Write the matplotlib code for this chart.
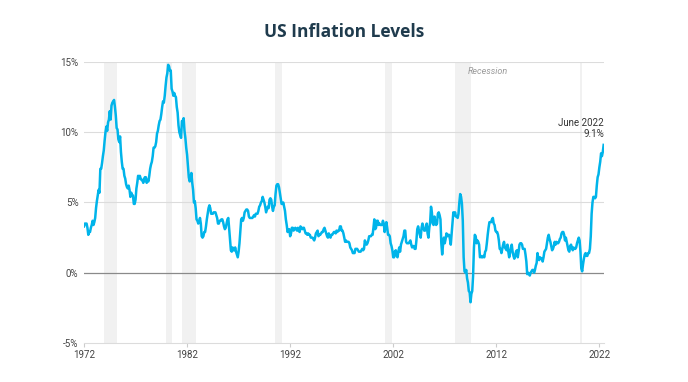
import matplotlib
matplotlib.use("Agg")
import matplotlib.pyplot as plt
import numpy as np

# US CPI year-over-year change, monthly, Jan 1972 - Jun 2022 (%)
cpi_by_year = {
    1972: [3.3, 3.5, 3.5, 3.5, 3.2, 2.7, 2.9, 2.9, 3.2, 3.4, 3.7, 3.4],
    1973: [3.6, 3.9, 4.6, 5.1, 5.5, 5.9, 5.7, 7.4, 7.4, 7.8, 8.3, 8.7],
    1974: [9.4, 10.0, 10.4, 10.1, 10.7, 10.9, 11.5, 10.9, 11.9, 12.1, 12.2, 12.3],
    1975: [11.8, 11.2, 10.3, 10.2, 9.5, 9.3, 9.7, 8.6, 7.9, 7.4, 7.4, 6.9],
    1976: [6.7, 6.3, 6.1, 6.0, 6.2, 5.9, 5.4, 5.7, 5.5, 5.5, 4.9, 4.9],
    1977: [5.2, 6.0, 6.4, 6.9, 6.7, 6.9, 6.7, 6.6, 6.6, 6.4, 6.7, 6.8],
    1978: [6.8, 6.4, 6.6, 6.5, 6.9, 7.4, 7.7, 7.9, 8.3, 8.9, 8.9, 9.0],
    1979: [9.3, 9.9, 10.1, 10.5, 10.8, 10.9, 11.3, 11.8, 12.2, 12.1, 12.6, 13.3],
    1980: [13.9, 14.2, 14.8, 14.7, 14.4, 14.4, 13.1, 12.9, 12.6, 12.8, 12.6, 12.5],
    1981: [11.8, 11.4, 10.5, 10.0, 9.8, 9.6, 10.8, 10.8, 11.0, 10.1, 9.6, 8.9],
    1982: [8.4, 7.6, 6.8, 6.5, 6.7, 7.1, 6.4, 5.9, 5.0, 5.1, 4.6, 3.8],
    1983: [3.7, 3.5, 3.6, 3.9, 3.5, 2.6, 2.5, 2.6, 2.9, 2.9, 3.3, 3.8],
    1984: [4.2, 4.6, 4.8, 4.6, 4.2, 4.2, 4.2, 4.3, 4.3, 4.3, 4.1, 3.9],
    1985: [3.5, 3.5, 3.7, 3.7, 3.8, 3.8, 3.6, 3.3, 3.1, 3.2, 3.5, 3.8],
    1986: [3.9, 3.1, 2.2, 1.6, 1.5, 1.8, 1.6, 1.6, 1.8, 1.5, 1.3, 1.1],
    1987: [1.5, 2.1, 3.0, 3.8, 3.9, 3.7, 3.9, 4.3, 4.4, 4.5, 4.5, 4.4],
    1988: [4.0, 3.9, 3.9, 3.9, 3.9, 4.0, 4.1, 4.0, 4.2, 4.2, 4.2, 4.4],
    1989: [4.7, 4.8, 5.0, 5.1, 5.4, 5.2, 5.0, 4.7, 4.3, 4.5, 4.7, 4.6],
    1990: [5.2, 5.3, 5.2, 4.7, 4.4, 4.7, 4.8, 5.6, 6.2, 6.3, 6.3, 6.1],
    1991: [5.7, 5.3, 4.9, 4.9, 5.0, 4.7, 4.4, 3.8, 3.4, 2.9, 3.0, 3.1],
    1992: [2.6, 2.8, 3.2, 3.2, 3.0, 3.1, 3.2, 3.1, 3.0, 3.2, 3.0, 2.9],
    1993: [3.3, 3.2, 3.1, 3.2, 3.2, 3.0, 2.8, 2.8, 2.7, 2.8, 2.7, 2.7],
    1994: [2.5, 2.5, 2.5, 2.4, 2.3, 2.5, 2.8, 2.9, 3.0, 2.6, 2.7, 2.7],
    1995: [2.8, 2.9, 2.9, 3.1, 3.2, 3.0, 2.8, 2.6, 2.5, 2.8, 2.6, 2.5],
    1996: [2.7, 2.7, 2.8, 2.9, 2.9, 2.8, 3.0, 2.9, 3.0, 3.0, 3.3, 3.3],
    1997: [3.0, 3.0, 2.8, 2.5, 2.2, 2.3, 2.2, 2.2, 2.2, 2.1, 1.8, 1.7],
    1998: [1.6, 1.4, 1.4, 1.4, 1.7, 1.7, 1.7, 1.6, 1.5, 1.5, 1.5, 1.6],
    1999: [1.7, 1.6, 1.7, 2.3, 2.1, 2.0, 2.1, 2.3, 2.6, 2.6, 2.6, 2.7],
    2000: [2.7, 3.2, 3.8, 3.1, 3.2, 3.7, 3.7, 3.4, 3.5, 3.4, 3.4, 3.4],
    2001: [3.7, 3.5, 2.9, 3.3, 3.6, 3.2, 2.7, 2.7, 2.6, 2.1, 1.9, 1.6],
    2002: [1.1, 1.1, 1.5, 1.6, 1.2, 1.1, 1.5, 1.8, 1.5, 2.0, 2.2, 2.4],
    2003: [2.6, 3.0, 3.0, 2.2, 2.1, 2.1, 2.1, 2.2, 2.3, 2.0, 1.8, 1.9],
    2004: [1.9, 1.7, 1.7, 2.3, 3.1, 3.3, 3.0, 2.7, 2.5, 3.2, 3.5, 3.3],
    2005: [3.0, 3.0, 3.1, 3.5, 2.8, 2.5, 3.2, 3.6, 4.7, 4.3, 3.5, 3.4],
    2006: [4.0, 3.6, 3.4, 3.5, 4.2, 4.3, 4.1, 3.8, 2.1, 1.3, 2.0, 2.5],
    2007: [2.1, 2.4, 2.8, 2.6, 2.7, 2.7, 2.4, 2.0, 2.8, 3.5, 4.3, 4.1],
    2008: [4.3, 4.0, 4.0, 3.9, 4.2, 5.0, 5.6, 5.4, 4.9, 3.7, 1.1, 0.1],
    2009: [0.0, 0.2, -0.4, -0.7, -1.3, -1.4, -2.1, -1.5, -1.3, -0.2, 1.8, 2.7],
    2010: [2.6, 2.1, 2.3, 2.2, 2.0, 1.1, 1.2, 1.1, 1.1, 1.2, 1.1, 1.5],
    2011: [1.6, 2.1, 2.7, 3.2, 3.6, 3.6, 3.6, 3.8, 3.9, 3.5, 3.4, 3.0],
    2012: [2.9, 2.9, 2.7, 2.3, 1.7, 1.7, 1.4, 1.7, 2.0, 2.2, 1.8, 1.7],
    2013: [1.6, 2.0, 1.5, 1.1, 1.4, 1.8, 2.0, 1.5, 1.2, 1.0, 1.2, 1.5],
    2014: [1.6, 1.1, 1.5, 2.0, 2.1, 2.1, 2.0, 1.7, 1.7, 1.7, 1.3, 0.8],
    2015: [-0.1, 0.0, -0.1, -0.2, 0.0, 0.1, 0.2, 0.2, 0.0, 0.2, 0.5, 0.7],
    2016: [1.4, 1.0, 0.9, 1.1, 1.0, 1.0, 0.8, 1.1, 1.5, 1.6, 1.7, 2.1],
    2017: [2.5, 2.7, 2.4, 2.2, 1.9, 1.6, 1.7, 1.9, 2.2, 2.0, 2.2, 2.1],
    2018: [2.1, 2.2, 2.4, 2.5, 2.8, 2.9, 2.9, 2.7, 2.3, 2.5, 2.2, 1.9],
    2019: [1.6, 1.5, 1.9, 2.0, 1.8, 1.6, 1.8, 1.7, 1.7, 1.8, 2.1, 2.3],
    2020: [2.5, 2.3, 1.5, 0.3, 0.1, 0.6, 1.0, 1.3, 1.4, 1.2, 1.2, 1.4],
    2021: [1.4, 1.7, 2.6, 4.2, 5.0, 5.4, 5.4, 5.3, 5.4, 6.2, 6.8, 7.0],
    2022: [7.5, 7.9, 8.5, 8.3, 8.6, 9.1],
}

# recession periods (start, end) in fractional years
recessions = [(1973.9, 1975.2), (1980.0, 1980.55), (1981.55, 1982.9),
              (1990.55, 1991.2), (2001.2, 2001.9), (2007.95, 2009.5),
              (2020.1, 2020.35)]

year_ticks = [1972, 1982, 1992, 2002, 2012, 2022]
pct_ticks = [-5, 0, 5, 10, 15]

dates = []
values = []
for yr, months in cpi_by_year.items():
    for m, v in enumerate(months):
        dates.append(yr + m / 12)
        values.append(v)

fig = plt.figure(figsize=(6.88, 3.82), dpi=100)
ax = fig.add_axes([0.1221, 0.1021, 0.7558, 0.7356])

for start, end in recessions:
    ax.axvspan(start, end, color="#f1f1f1", lw=0, zorder=0)

for y in [5, 10, 15]:
    ax.axhline(y, color="#dcdcdc", lw=0.8, zorder=1)
ax.axhline(0, color="#8a8a8a", lw=0.9, zorder=1)

ax.plot(dates, values, color="#00b4ea", lw=1.8, zorder=3)

ax.set_xlim(1972, 2022.45)
ax.set_ylim(-5, 15)
ax.set_xticks(year_ticks)
ax.set_xticklabels([str(y) for y in year_ticks])
ax.set_yticks(pct_ticks)
ax.set_yticklabels([f"{p}%" for p in pct_ticks])

for s in ["top", "right", "left"]:
    ax.spines[s].set_visible(False)
ax.spines["bottom"].set_color("#dcdcdc")
ax.spines["bottom"].set_linewidth(0.8)
ax.tick_params(axis="y", length=0, pad=4, labelsize=7, labelcolor="#444444")
ax.tick_params(axis="x", length=3, color="#cccccc", pad=2, labelsize=7,
               labelcolor="#444444")
for lab in ax.get_xticklabels() + ax.get_yticklabels():
    lab.set_fontfamily("Roboto")

ax.text(2009.2, 14.3, "Recession", fontsize=6.5, style="italic",
        color="#999999", family="Roboto", va="center")
ax.text(2022.45, 9.5, "June 2022\n9.1%", fontsize=7, color="#333333",
        family="Roboto", ha="right", va="bottom", linespacing=1.2)

fig.text(0.5, 0.915, "US Inflation Levels", ha="center", va="center",
         fontsize=12.5, fontweight="bold", color="#1f3b4d", family="Open Sans")

fig.savefig("out.png", dpi=100)
